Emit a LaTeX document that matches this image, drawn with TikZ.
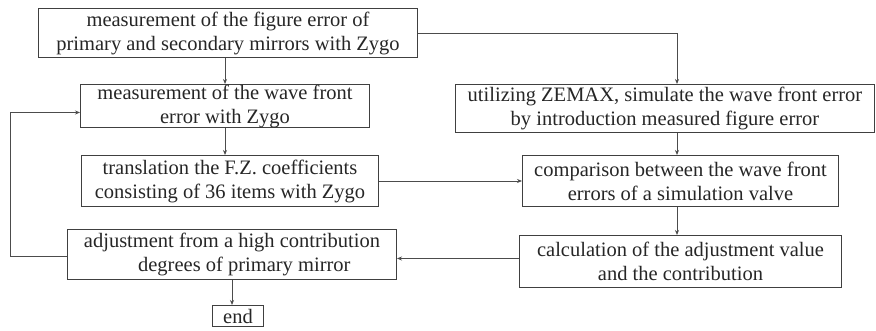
\documentclass[tikz,border=0pt]{standalone}
\usepackage{fontspec}
\setmainfont{Liberation Serif}
\usetikzlibrary{arrows.meta}
\begin{document}
\begin{tikzpicture}[x=1pt,y=-1pt,
  box/.style={draw=black!75, line width=1pt, inner sep=0pt, align=center, anchor=north west,
    font=\fontsize{20.5}{24}\selectfont, text=black!85},
  conn/.style={draw=black!70, line width=0.9pt},
  arr/.style={conn, -{Stealth[length=5pt,width=4pt]}}]
\useasboundingbox (0,0) rectangle (876,331);
\node[box, minimum width=379, minimum height=49] (b1) at (38,8)
  {measurement of the figure error of\\primary and secondary mirrors with Zygo};
\node[box, minimum width=289, minimum height=43] (b2) at (80,84)
  {measurement of the wave front\\error with Zygo};
\node[box, minimum width=297, minimum height=51] (b3) at (81,155)
  {translation the F.Z. coefficients\\consisting of 36 items with Zygo};
\node[box, minimum width=329, minimum height=50] (b4) at (67,229)
  {adjustment from a high contribution\\\hspace*{1.2em}degrees of primary mirror};
\node[box, minimum width=51, minimum height=21] (bend) at (212,305) {end};
\node[box, minimum width=419, minimum height=48] (b5) at (455,84)
  {utilizing ZEMAX, simulate the wave front error\\by introduction measured figure error};
\node[box, minimum width=316, minimum height=51] (b6) at (522,155)
  {comparison between the wave front\\errors of a simulation valve};
\node[box, minimum width=322, minimum height=52] (b7) at (519,235)
  {calculation of the adjustment value\\and the contribution};
\coordinate (lp) at (10,0);
\coordinate (rc) at (677,0);
\draw[arr] (b2.north |- b1.south) -- (b2.north);
\draw[arr] (b2.south) -- (b2.south |- b3.north);
\draw[arr] (b4.south) -- (b4.south |- bend.north);
\draw[arr] ([yshift=-2pt]b4.west) -- ([yshift=-2pt]b4.west -| lp) -- ([yshift=-6.5pt]b2.west -| lp) -- ([yshift=-6.5pt]b2.west);
\draw[arr] (b1.east) -| (rc |- b5.north);
\draw[arr] (rc |- b5.south) -- (rc |- b6.north);
\draw[arr] (rc |- b6.south) -- (rc |- b7.north);
\draw[arr] (b3.east) -- (b3.east -| b6.west);
\draw[arr] ([yshift=3pt]b7.west) -- ([yshift=3pt]b7.west -| b4.east);
\end{tikzpicture}
\end{document}
